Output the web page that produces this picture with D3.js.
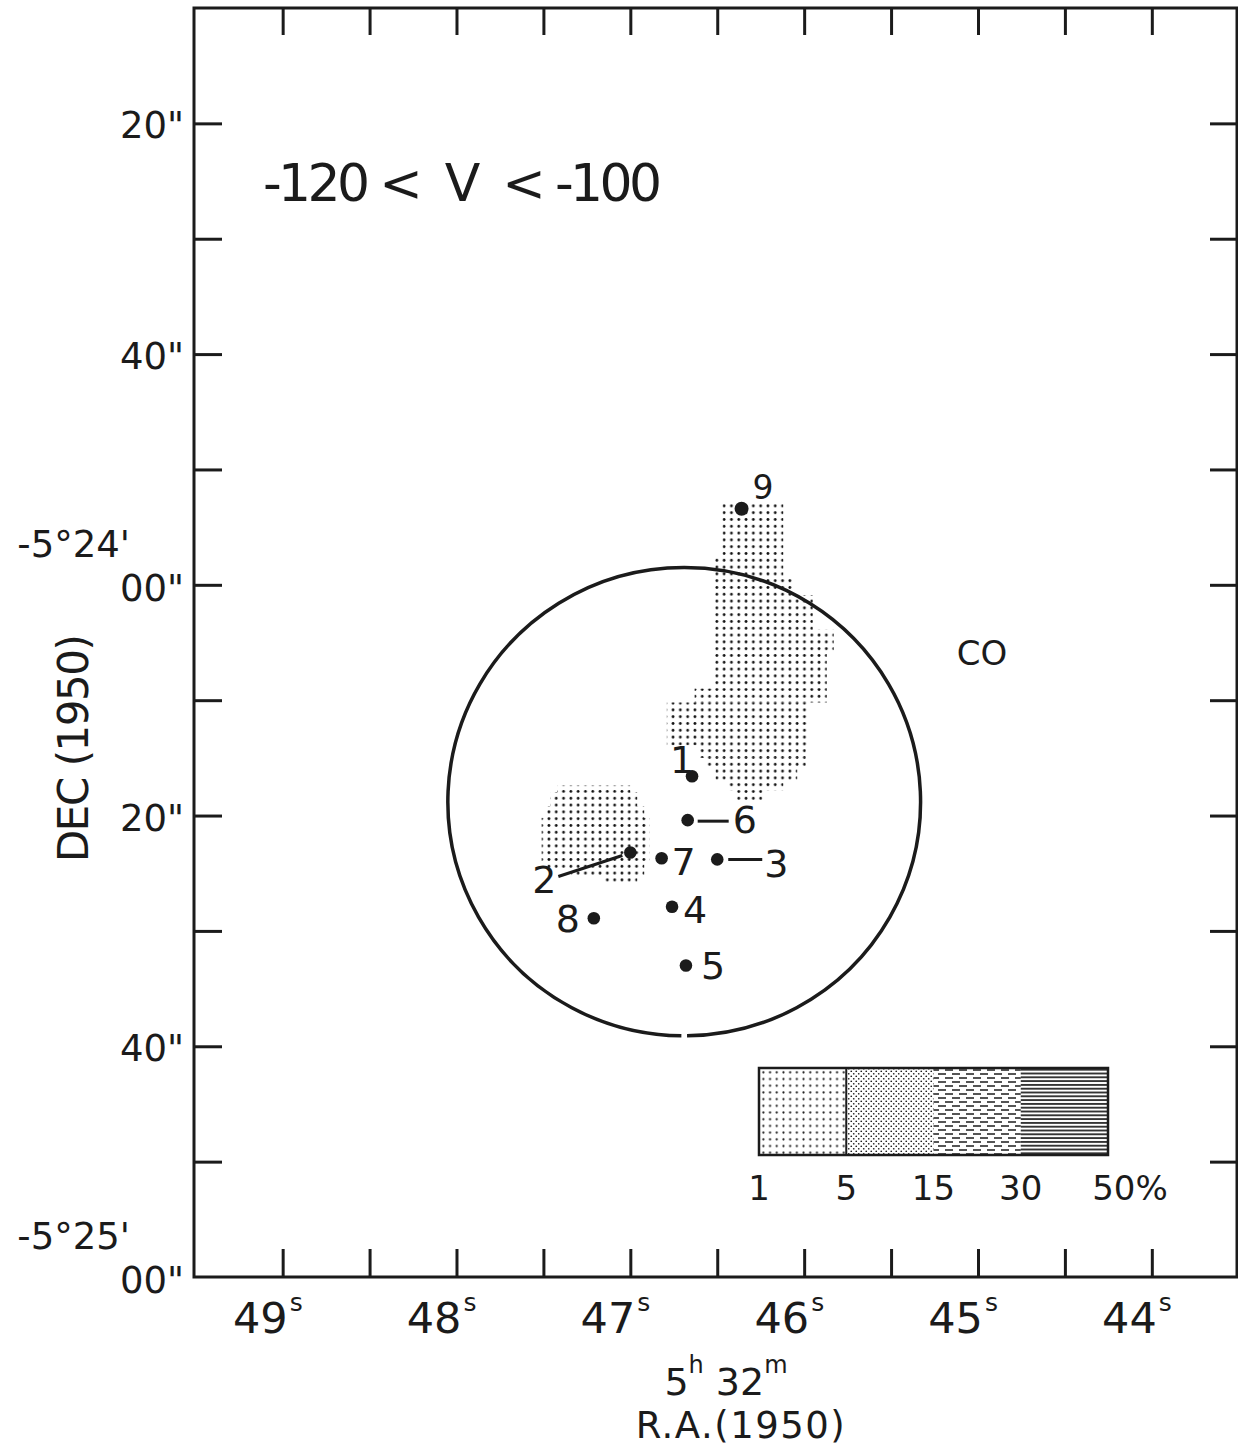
<!DOCTYPE html>
<html>
<head>
<meta charset="utf-8">
<script src="https://cdn.jsdelivr.net/npm/d3@7"></script>
<style>
body { margin: 0; background: #fff; }
svg text { font-family: "DejaVu Sans", sans-serif; fill: #1b1b1b; }
</style>
</head>
<body>
<script>
var width = 1238,
    height = 1447;

// sources : R.A. = 5h32m + s, Dec = arcsec south of -5°24'00"
var srcNames = ["1", "2", "3", "4", "5", "6", "7", "8", "9"];
var srcRA = [46.645, 47.00, 46.50, 46.76, 46.68, 46.67, 46.82, 47.21, 46.36];
var srcDec = [16.6, 23.2, 23.8, 27.9, 33.0, 20.4, 23.7, 28.9, -6.6];

// CO 1-5% emission, strips : [dec top, dec bottom, ra east, ra west]
var coNorth = [
    [-7.1, -2.5, 46.47, 46.12],
    [-2.5, -0.6, 46.52, 46.12],
    [-0.6, 0.9, 46.52, 46.06],
    [0.9, 3.9, 46.52, 45.95],
    [3.9, 5.7, 46.52, 45.83],
    [5.7, 9.0, 46.52, 45.87],
    [9.0, 10.2, 46.63, 45.87],
    [10.2, 13.9, 46.79, 45.97],
    [13.9, 15.0, 46.61, 45.99],
    [15.0, 15.8, 46.57, 45.99],
    [15.8, 16.9, 46.51, 46.04],
    [16.9, 17.8, 46.44, 46.12],
    [17.8, 18.7, 46.39, 46.24]
];
var coEast = [
    [17.4, 18.0, 47.42, 47.00],
    [18.0, 19.2, 47.46, 46.96],
    [19.2, 20.2, 47.49, 46.92],
    [20.2, 24.0, 47.51, 46.89],
    [24.0, 24.7, 47.49, 46.92],
    [24.7, 25.3, 47.34, 46.92],
    [25.3, 26.0, 47.16, 46.96]
];

// beam circle
var beamCenter = [46.69, 18.8];
var beamRadius = 20.3; // arcsec

var raTicks = [49, 48, 47, 46, 45, 44];
var raMinor = [49, 48.5, 48, 47.5, 47, 46.5, 46, 45.5, 45, 44.5, 44];
var decTicks = [-40, -20, 0, 20, 40, 60];
var decLabels = [['20"'], ['40"'], ["-5°24'", '00"'], ['20"'], ['40"'], ["-5°25'", '00"']];
var decMinor = [-40, -30, -20, -10, 0, 10, 20, 30, 40, 50];

var legendEdges = [1, 5, 15, 30, 50];
var legendLabels = ["1", "5", "15", "30", "50%"];
var legendFills = ["url(#p1)", "url(#p2)", "url(#p3)", "url(#p4)"];

// position des numeros (px par rapport au point)
var labelOffset = {
    "1": [-22, -3], "2": [-98, 41], "3": [47, 18], "4": [11, 16], "5": [15, 13],
    "6": [45, 13], "7": [10, 17], "8": [-38, 14], "9": [11, -10]
};
var leaders = {
    "2": [[-8, 3], [-72, 24]],
    "6": [[10, 1], [41, 1]],
    "3": [[11, 0], [45, 0]]
};

var svg = d3.select("body")
    .append("svg")
    .attr("width", width)
    .attr("height", height);

var x = d3.scaleLinear().domain([49.51, 43.51]).range([194, 1237]);
var y = d3.scaleLinear().domain([-50, 60]).range([8, 1277]);

var ink = "#1b1b1b";

// patterns
var defs = svg.append("defs");
var p0 = defs.append("pattern").attr("id", "p0").attr("patternUnits", "userSpaceOnUse")
    .attr("x", 720.5).attr("y", 502.5).attr("width", 7.3).attr("height", 6.8);
p0.append("circle").attr("cx", 3.65).attr("cy", 3.4).attr("r", 1.4).attr("fill", "#111");

var p1 = defs.append("pattern").attr("id", "p1").attr("patternUnits", "userSpaceOnUse")
    .attr("x", 760).attr("y", 1069).attr("width", 6.7).attr("height", 6.7);
p1.append("circle").attr("cx", 3.35).attr("cy", 3.35).attr("r", 1.1).attr("fill", ink);

var p2 = defs.append("pattern").attr("id", "p2").attr("patternUnits", "userSpaceOnUse")
    .attr("width", 5).attr("height", 5);
p2.append("circle").attr("cx", 1.25).attr("cy", 1.25).attr("r", 0.85).attr("fill", ink);
p2.append("circle").attr("cx", 3.75).attr("cy", 3.75).attr("r", 0.85).attr("fill", ink);

var p3 = defs.append("pattern").attr("id", "p3").attr("patternUnits", "userSpaceOnUse")
    .attr("width", 14).attr("height", 8);
p3.append("line").attr("x1", 0).attr("x2", 8).attr("y1", 2).attr("y2", 2)
    .attr("stroke", ink).attr("stroke-width", 1.5);
p3.append("line").attr("x1", 7).attr("x2", 14).attr("y1", 6).attr("y2", 6)
    .attr("stroke", ink).attr("stroke-width", 1.5);
p3.append("line").attr("x1", 0).attr("x2", 1).attr("y1", 6).attr("y2", 6)
    .attr("stroke", ink).attr("stroke-width", 1.5);

var p4 = defs.append("pattern").attr("id", "p4").attr("patternUnits", "userSpaceOnUse")
    .attr("width", 24).attr("height", 3.8);
p4.append("line").attr("x1", 0).attr("x2", 24).attr("y1", 1.9).attr("y2", 1.9)
    .attr("stroke", ink).attr("stroke-width", 1.7);

// CO regions
function strips(data) {
    svg.append("g").selectAll("rect")
        .data(data)
        .join("rect")
        .attr("x", d => x(d[2]))
        .attr("width", d => x(d[3]) - x(d[2]))
        .attr("y", d => y(d[0]))
        .attr("height", d => y(d[1]) - y(d[0]))
        .attr("fill", "url(#p0)");
}
strips(coNorth);
strips(coEast);

// frame
svg.append("rect")
    .attr("x", x.range()[0]).attr("y", y.range()[0])
    .attr("width", x.range()[1] - x.range()[0])
    .attr("height", y.range()[1] - y.range()[0])
    .attr("fill", "none").attr("stroke", ink).attr("stroke-width", 3);

function styleAxis(g) {
    g.select(".domain").remove();
    g.selectAll(".tick line").attr("stroke", ink).attr("stroke-width", 3);
    g.selectAll(".tick text").remove();
}
svg.append("g").attr("transform", "translate(0," + y.range()[0] + ")")
    .call(d3.axisBottom(x).tickValues(raMinor).tickSize(27).tickFormat(""))
    .call(styleAxis);
svg.append("g").attr("transform", "translate(0," + y.range()[1] + ")")
    .call(d3.axisTop(x).tickValues(raMinor).tickSize(28).tickFormat(""))
    .call(styleAxis);
svg.append("g").attr("transform", "translate(" + x.range()[0] + ",0)")
    .call(d3.axisRight(y).tickValues(decMinor).tickSize(28).tickFormat(""))
    .call(styleAxis);
svg.append("g").attr("transform", "translate(" + x.range()[1] + ",0)")
    .call(d3.axisLeft(y).tickValues(decMinor).tickSize(27).tickFormat(""))
    .call(styleAxis);

// x labels (secondes)
svg.append("g").selectAll("text").data(raTicks).join("text")
    .attr("x", d => x(d) + 5)
    .attr("y", 1333)
    .attr("text-anchor", "end")
    .style("font-size", "43px")
    .text(d => d);
svg.append("g").selectAll("text").data(raTicks).join("text")
    .attr("x", d => x(d) + 7)
    .attr("y", 1311)
    .style("font-size", "25px")
    .text("s");

// y labels
decTicks.forEach(function (d, i) {
    var lab = decLabels[i];
    if (lab.length == 1) {
        svg.append("text").attr("x", 184).attr("y", y(d) + 15)
            .attr("text-anchor", "end").style("font-size", "37px").text(lab[0]);
    } else {
        svg.append("text").attr("x", 130).attr("y", y(d) - 28)
            .attr("text-anchor", "end").style("font-size", "37px").text(lab[0]);
        svg.append("text").attr("x", 184).attr("y", y(d) + 16)
            .attr("text-anchor", "end").style("font-size", "37px").text(lab[1]);
    }
});

// axis titles
svg.append("text")
    .attr("transform", "translate(88,748) rotate(-90)")
    .attr("text-anchor", "middle")
    .attr("textLength", 228)
    .style("font-size", "42px")
    .text("DEC (1950)");

var ra = svg.append("text").attr("x", 726).attr("y", 1395)
    .attr("text-anchor", "middle").style("font-size", "38px");
ra.append("tspan").text("5");
ra.append("tspan").attr("dy", -22).style("font-size", "24px").text("h");
ra.append("tspan").attr("dy", 22).text(" 32");
ra.append("tspan").attr("dy", -22).style("font-size", "24px").text("m");

svg.append("text").attr("x", 741).attr("y", 1438)
    .attr("text-anchor", "middle")
    .style("font-size", "37px").style("letter-spacing", "1.5px")
    .text("R.A.(1950)");

// title
svg.append("text")
    .attr("x", 263).attr("y", 201)
    .attr("textLength", 399)
    .style("font-size", "52px")
    .style("white-space", "pre")
    .text("-120 <  V  < -100");

svg.append("text").attr("x", 982).attr("y", 665)
    .attr("text-anchor", "middle").style("font-size", "34px").text("CO");

// beam circle, petite coupure en bas
var cx = x(beamCenter[0]), cy = y(beamCenter[1]);
var rx = Math.abs(x(beamCenter[0] - beamRadius / 14.93) - cx);
var ry = Math.abs(y(beamCenter[1] + beamRadius) - cy);
var gap = 0.012;
svg.append("path")
    .attr("d", "M" + (cx + rx * Math.sin(gap)) + "," + (cy + ry * Math.cos(gap)) +
        " A" + rx + "," + ry + " 0 1 0 " + (cx - rx * Math.sin(gap)) + "," + (cy + ry * Math.cos(gap)))
    .attr("fill", "none").attr("stroke", ink).attr("stroke-width", 3.5);

// sources
var src = srcNames.map(function (n, i) { return {name: n, ra: srcRA[i], dec: srcDec[i]}; });

svg.append("g").selectAll("line").data(src.filter(d => leaders[d.name])).join("line")
    .attr("x1", d => x(d.ra) + leaders[d.name][0][0])
    .attr("y1", d => y(d.dec) + leaders[d.name][0][1])
    .attr("x2", d => x(d.ra) + leaders[d.name][1][0])
    .attr("y2", d => y(d.dec) + leaders[d.name][1][1])
    .attr("stroke", ink).attr("stroke-width", 3);

svg.append("g").selectAll("circle").data(src).join("circle")
    .attr("cx", d => x(d.ra))
    .attr("cy", d => y(d.dec))
    .attr("r", d => d.name == "9" ? 7 : 6.3)
    .attr("fill", ink);

svg.append("g").selectAll("text").data(src).join("text")
    .attr("x", d => x(d.ra) + labelOffset[d.name][0])
    .attr("y", d => y(d.dec) + labelOffset[d.name][1])
    .style("font-size", d => d.name == "9" ? "33px" : "38px")
    .text(d => d.name);

// legend
var lx = d3.scaleLinear().domain([0, legendEdges.length - 1]).range([759, 1108]);
var lg = svg.append("g");
lg.selectAll("rect").data(legendFills).join("rect")
    .attr("x", (d, i) => lx(i))
    .attr("width", (d, i) => lx(i + 1) - lx(i))
    .attr("y", 1068).attr("height", 87)
    .attr("fill", d => d);
lg.append("rect").attr("x", lx(0)).attr("y", 1068)
    .attr("width", lx(4) - lx(0)).attr("height", 87)
    .attr("fill", "none").attr("stroke", ink).attr("stroke-width", 2.5);
lg.append("line").attr("x1", lx(1)).attr("x2", lx(1)).attr("y1", 1068).attr("y2", 1155)
    .attr("stroke", ink).attr("stroke-width", 2);
lg.selectAll("text").data(legendLabels).join("text")
    .attr("x", (d, i) => lx(i) + (i == 4 ? 22 : 0))
    .attr("y", 1200)
    .attr("text-anchor", "middle")
    .style("font-size", "34px")
    .text(d => d);
</script>
</body>
</html>
